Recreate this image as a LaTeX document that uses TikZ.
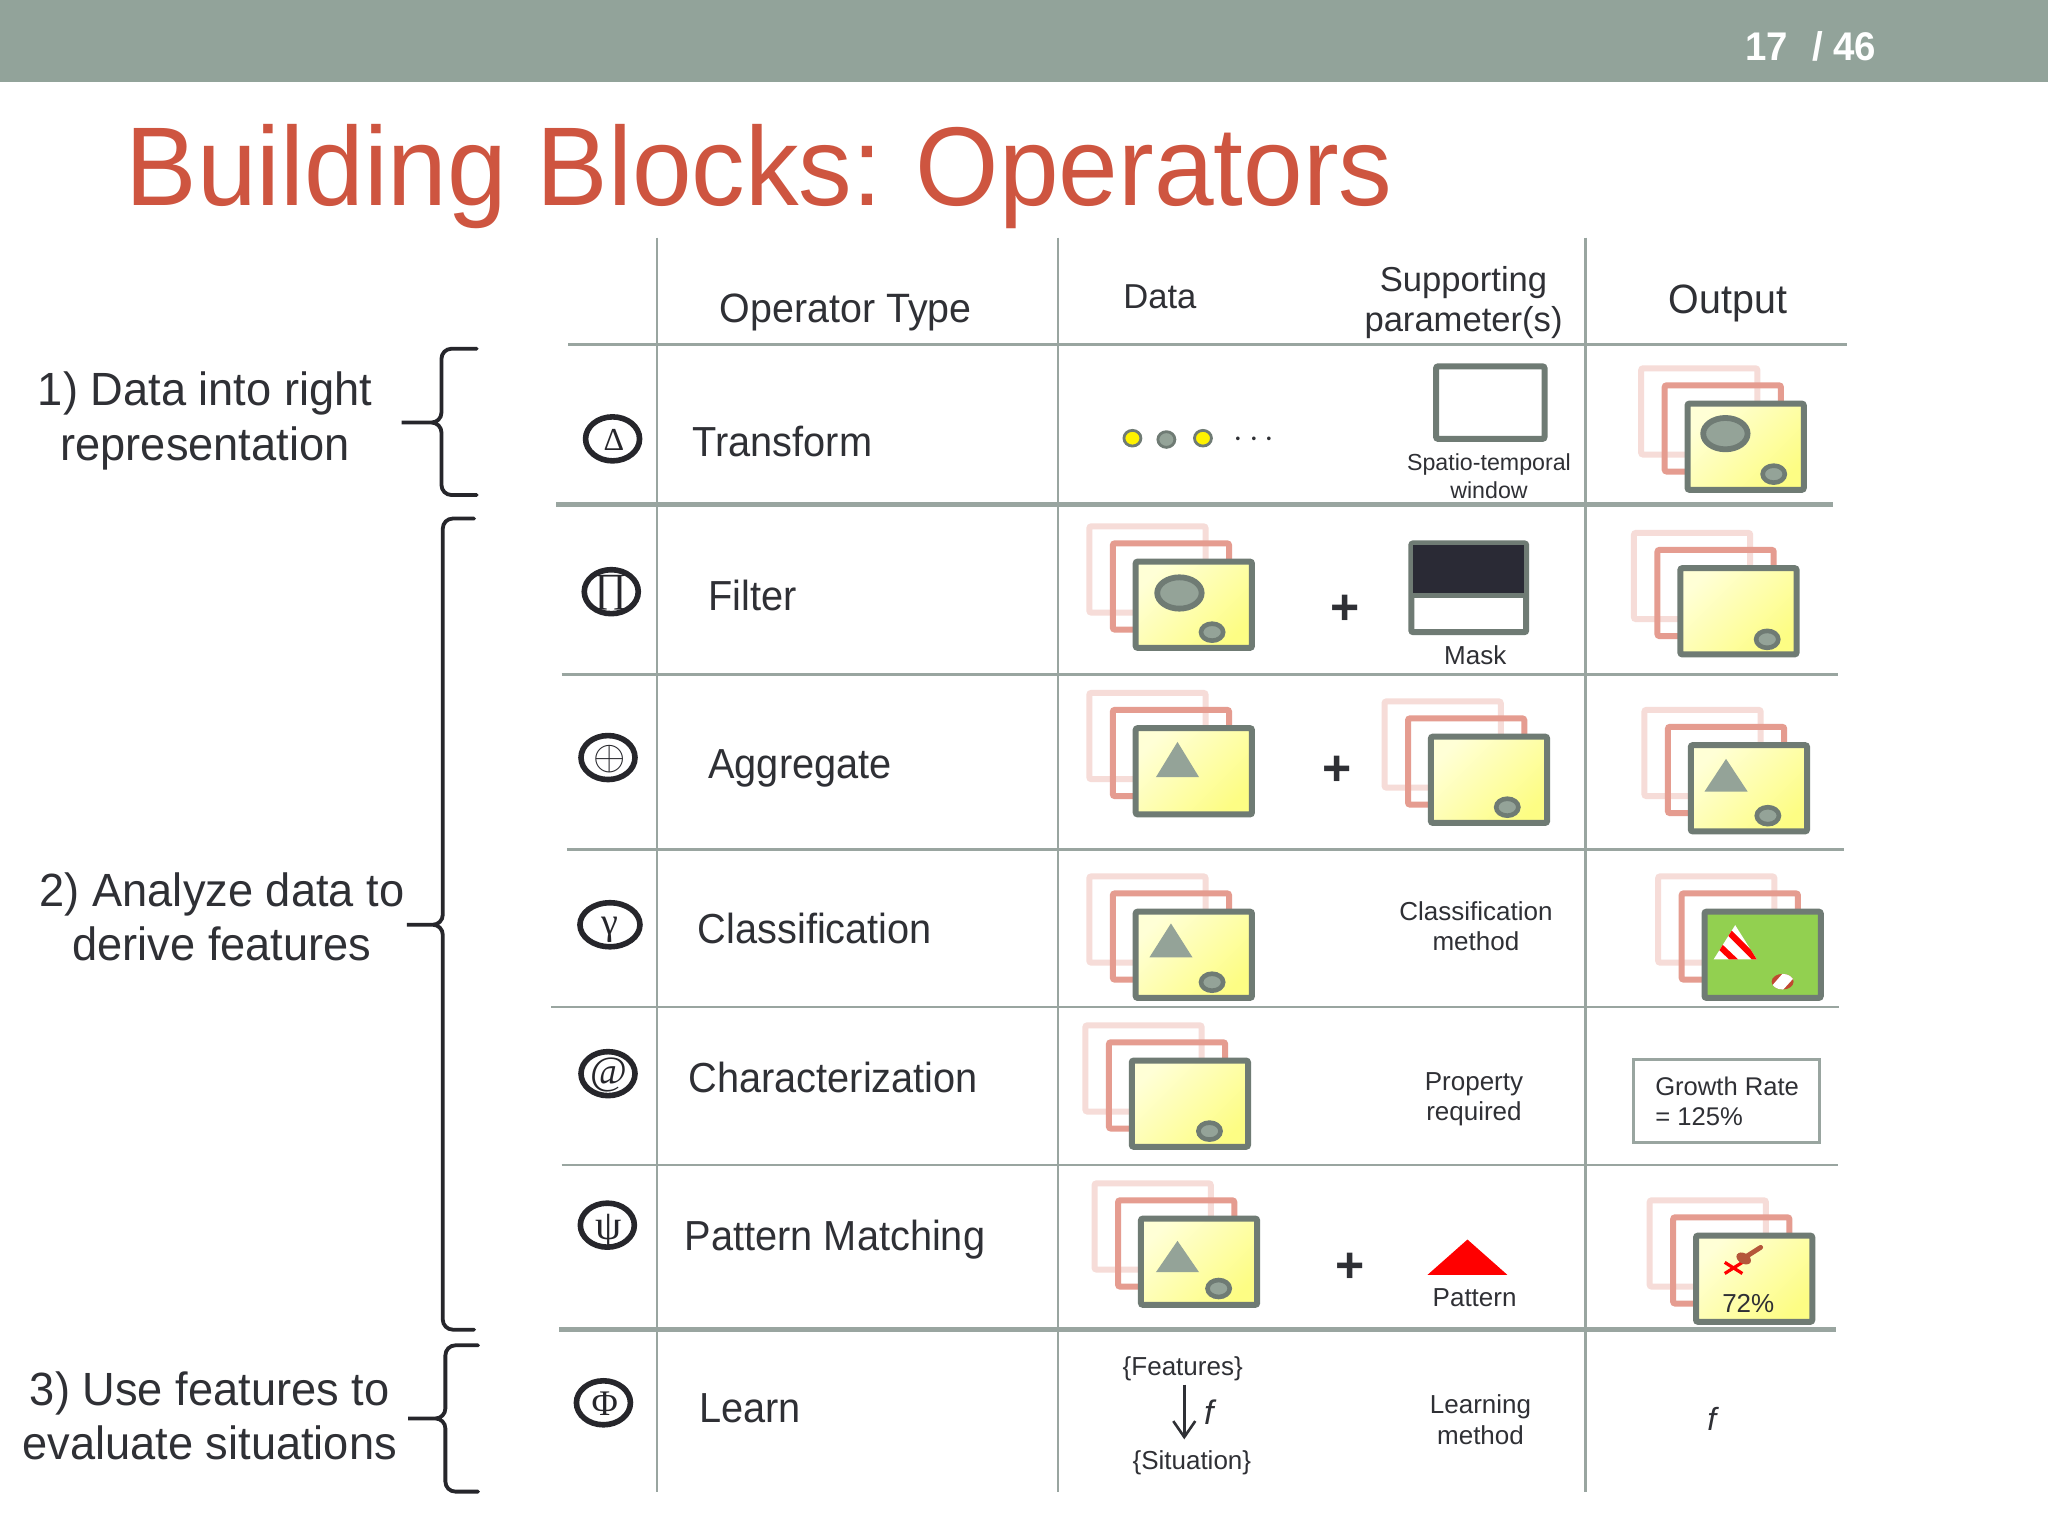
\documentclass[tikz,border=0pt]{standalone}
\usepackage{fontspec}
\setmainfont{Liberation Sans}
\newfontfamily\glyphf{Liberation Serif}
\newfontfamily\titlef[FakeStretch=0.957]{Liberation Sans}
\newfontfamily\opf[FakeStretch=0.946]{Liberation Sans}
\newfontfamily\sidef[FakeStretch=0.97]{Liberation Sans}
\newfontfamily\headf[FakeStretch=0.96]{Liberation Sans}
\usetikzlibrary{shapes.geometric,arrows.meta}
\definecolor{band}{HTML}{92A39A}
\definecolor{titlered}{HTML}{CE5540}
\definecolor{rulec}{HTML}{99A5A0}
\definecolor{ink}{HTML}{2F3035}
\definecolor{frameA}{HTML}{F6DCD8}
\definecolor{frameB}{HTML}{E59C90}
\definecolor{frameC}{HTML}{6F7B74}
\definecolor{blob}{HTML}{94A398}
\definecolor{ylA}{HTML}{FFFFD6}
\definecolor{ylB}{HTML}{FDFD84}
\definecolor{greenf}{HTML}{92D050}
\definecolor{darkf}{HTML}{2A2A35}
\definecolor{ovalc}{HTML}{26262B}
\definecolor{pinc}{HTML}{B5563A}
\tikzset{
  x=0.65306pt,y=-0.65306pt,
  rulethin/.style={draw=rulec,line width=1.4pt},
  rulethick/.style={draw=rulec,line width=2.4pt},
  backframe/.style={draw=frameA,line width=3pt,rounded corners=1pt},
  midframe/.style={draw=frameB,line width=3pt,rounded corners=1pt},
  frontframe/.style={draw=frameC,line width=3pt,rounded corners=1pt},
  yfill/.style={top color=ylA,bottom color=ylB,shading angle=45},
  bigblob/.style={draw=frameC,fill=blob,line width=2.9pt},
  smallblob/.style={draw=frameC,fill=blob,line width=2.3pt},
  txt/.style={inner sep=0pt,text=ink},
  sidetxt/.style={txt,align=center,font=\sidef\fontsize{23.3}{27.4}\selectfont},
  optxt/.style={txt,anchor=west,font=\opf\fontsize{21}{25}\selectfont},
  headtxt/.style={txt,align=center,font=\fontsize{17.3}{20}\selectfont},
  bighead/.style={txt,align=center,font=\headf\fontsize{20.5}{25}\selectfont},
  smalltxt/.style={txt,align=center,font=\fontsize{13}{15.2}\selectfont},
  opsym/.style={ellipse,draw=ovalc,line width=2.8pt,inner sep=0pt,minimum width=27pt,minimum height=22pt},
  opglyph/.style={inner sep=0pt,text=ovalc},
  bracec/.style={draw=ovalc,line width=1.9pt,line cap=round,rounded corners=5pt},
  plusn/.style={txt,font=\fontsize{25}{25}\bfseries\selectfont},
}
\newcommand{\rearframes}[2]{%
  \draw[backframe] (#1-34,#2-25.5) rectangle ++(89,66);
  \draw[midframe] (#1-16,#2-12.5) rectangle ++(89,66);
}
\newcommand{\yframes}[2]{%
  \rearframes{#1}{#2}
  \draw[frontframe,yfill] (#1+1.5,#2+1.5) rectangle ++(89,66);
}
\newcommand{\bigb}[2]{\draw[bigblob] (#1,#2) ellipse [x radius=17,y radius=12];}
\newcommand{\smallb}[2]{\draw[smallblob] (#1,#2) ellipse [x radius=8.5,y radius=6.5];}
\newcommand{\tri}[3]{\fill[blob] (#1,#2+#3) -- ++(33,0) -- ++(-16.5,-#3) -- cycle;}
\begin{document}
\begin{tikzpicture}
\useasboundingbox (0,0) rectangle (1568,1176);
\fill[white] (0,0) rectangle (1568,1176);
\fill[band] (0,0) rectangle (1568,63);
\node[inner sep=0pt,text=white,font=\headf\fontsize{20}{24}\bfseries\selectfont] (page) at (1386.5,35.5) {17\hspace{0.6em}/ 46};
\node[inner sep=0pt,anchor=west,text=titlered,font=\titlef\fontsize{56}{60}\selectfont] (title) at (96,135) {Building Blocks:\hspace{-3pt} Operators};

% grid
\draw[rulethin] (503,182) -- (503,1142);
\draw[rulethin] (810,182) -- (810,1142);
\draw[rulethin] (1214,182) -- (1214,1142);
\draw[rulethin] (435,264) -- (1414,264);
\draw[rulethick] (426,386) -- (1403,386);
\draw[rulethin] (430,516.5) -- (1407,516.5);
\draw[rulethin] (434,650.5) -- (1412,650.5);
\draw[rulethin] (422,771) -- (1408,771);
\draw[rulethin] (430,892) -- (1407,892);
\draw[rulethick] (428,1018) -- (1406,1018);

% braces
\draw[bracec] (365,267) -- (338,267) -- (338,323.5) -- (303,323.5) -- (338,323.5) -- (338,379) -- (365,379);
\draw[bracec] (363,397) -- (339,397) -- (339,708) -- (307,708) -- (339,708) -- (339,1018) -- (363,1018);
\draw[bracec] (366,1030) -- (341,1030) -- (341,1086) -- (308,1086) -- (341,1086) -- (341,1142) -- (366,1142);

% side labels
\node[sidetxt] (s1) at (157,322) {1) Data into right\\representation};
\node[sidetxt] (s2) at (170,702) {2) Analyze data to\\derive features};
\node[sidetxt] (s3) at (160.5,1084) {3) Use features to\\evaluate situations};

% headers
\node[bighead] (h1) at (647.5,239) {Operator Type};
\node[headtxt] (h2) at (888,227) {Data};
\node[headtxt] (h3) at (1120.5,232) {Supporting\\parameter(s)};
\node[bighead] (h4) at (1323,232) {Output};

% operator names
\node[optxt] (n1) at (530,338) {Transform};
\node[optxt] (n2) at (542,456) {Filter};
\node[optxt] (n3) at (542,588) {Aggregate};
\node[optxt] (n4) at (534,711) {Classification};
\node[optxt] (n5) at (527,825) {Characterization};
\node[optxt] (n6) at (524,949) {Pattern Matching};
\node[optxt] (n7) at (535,1078) {Learn};

% operator symbols
\node[opsym] (o1) at (469,336) {};
\node[opglyph,font=\glyphf\fontsize{16}{16}\selectfont] (g1) at (470,337) {Δ};
\node[opsym] (o2) at (468,453) {};
\node[opglyph,font=\glyphf\fontsize{20}{20}\selectfont] (g2) at (468,454) {∏};
\node[opsym] (o3) at (465.5,580) {};
\node[opglyph,font=\fontsize{20}{20}\selectfont] (g3) at (466.5,581) {$\oplus$};
\node[opsym,minimum width=30pt] (o4) at (467,708) {};
\node[opglyph,font=\glyphf\fontsize{19}{19}\selectfont] (g4) at (467,712) {γ};
\node[opsym] (o5) at (465.5,822) {};
\node[opglyph,font=\glyphf\fontsize{20}{20}\selectfont] (g5) at (466.5,823) {@};
\node[opsym] (o6) at (465,938) {};
\node[opglyph,font=\glyphf\fontsize{21}{21}\selectfont] (g6) at (466,943) {ψ};
\node[opsym] (o7) at (462,1074) {};
\node[opglyph,font=\glyphf\fontsize{18}{18}\selectfont] (g7) at (463,1075) {Φ};

% transform row
\draw[draw=frameC,fill=yellow,line width=1.4pt] (867,335.5) ellipse [x radius=6.5,y radius=6];
\draw[draw=frameC,fill=blob,line width=1.4pt] (893,336.5) ellipse [x radius=6.5,y radius=6];
\draw[draw=frameC,fill=yellow,line width=1.4pt] (921,335.5) ellipse [x radius=6.5,y radius=6];
\node[txt,font=\fontsize{18}{18}\selectfont] (dots) at (960,337) {$\cdots$};
\draw[frontframe,fill=white] (1099.5,280.5) rectangle (1182.5,336);
\node[smalltxt,font=\fontsize{11.6}{14}\selectfont] (t1) at (1140,364.5) {Spatio-temporal\\window};
\yframes{1290.5}{307.5}
\bigb{1321}{332}
\smallb{1358}{363}

% filter row
\yframes{868}{428.5}
\bigb{903}{454}
\smallb{928}{484}
\node[plusn] (p1) at (1029.5,467) {+};
\draw[frontframe,fill=white] (1080.5,416) rectangle (1168.5,484);
\fill[darkf] (1082,417.5) rectangle (1167,454);
\draw[draw=frameC,line width=2.6pt] (1080,456) -- (1169,456);
\node[smalltxt] (t2) at (1129.5,502) {Mask};
\yframes{1285}{433.5}
\smallb{1353}{489.5}

% aggregate row
\yframes{868}{556}
\tri{885}{568}{27}
\node[plusn] (p2) at (1024,590) {+};
\yframes{1094}{562.5}
\smallb{1154}{618}
\yframes{1293}{569}
\tri{1305}{581}{25}
\smallb{1353.5}{624.5}

% classification row
\yframes{868}{696.5}
\tri{880}{707}{26}
\smallb{928}{752}
\node[smalltxt] (t3) at (1130,709) {Classification\\method};
\rearframes{1303.5}{696.5}
\draw[frontframe,fill=greenf] (1305,698) rectangle ++(89,66);
\begin{scope}
  \path[clip] (1328.5,708.3) -- (1345,734.5) -- (1312,734.5) -- cycle;
  \fill[white] (1300,700) rectangle (1350,740);
  \draw[red,line width=3.1pt] (1320,710) -- (1348,738);
  \draw[red,line width=3.1pt] (1313,721) -- (1332,739);
\end{scope}
\begin{scope}
  \fill[pinc!85!red] (1364.8,751.6) ellipse [x radius=8.4,y radius=6];
  \path[clip] (1364.8,751.6) ellipse [x radius=8.4,y radius=6];
  \fill[white] (1356,755.5) -- (1366,744) -- (1374,748) -- (1364,759) -- cycle;
\end{scope}

% characterization row
\yframes{865}{810.5}
\smallb{926}{866}
\node[smalltxt] (t4) at (1128.5,841.5) {Property\\required};
\draw[draw=rulec,line width=1.4pt,fill=white] (1250.5,811) rectangle (1393,875);
\node[smalltxt,align=left,anchor=west,font=\fontsize{12.8}{15.2}\selectfont] (t5) at (1267,843) {Growth Rate\\= 125\%};

% pattern row
\yframes{872}{931.5}
\tri{885}{950}{24}
\smallb{933}{986.5}
\node[plusn] (p3) at (1034,971) {+};
\fill[red] (1093,976) -- (1154,976) -- (1123.5,949) -- cycle;
\node[smalltxt] (t6) at (1129,993.5) {Pattern};
\rearframes{1297}{944.5}
\draw[frontframe,yfill] (1298.5,946) rectangle ++(89,66);
\draw[red,line width=1.6pt] (1320.5,966.5) -- (1334,975);
\draw[red,line width=1.6pt] (1334,966.5) -- (1320.5,975);
\fill[pinc,rotate around={-30:(1335,963.5)}] (1335,963.5) ellipse [x radius=6,y radius=4];
\draw[draw=pinc,line width=2.4pt,line cap=round] (1337,962) -- (1348,955);
\node[smalltxt] (t7) at (1338.5,998) {72\%};

% learn row
\node[smalltxt] (feat) at (905.5,1048) {\{Features\}};
\node[smalltxt] (situ) at (912.5,1120) {\{Situation\}};
\coordinate (arrA) at (906.7,1060);
\coordinate (arrB) at (906.7,1102);
\draw[draw=ink,line width=1.3pt,-{Straight Barb[length=8pt,width=11pt]}] (arrA) -- (arrB);
\node[smalltxt,font=\itshape\fontsize{17}{17}\selectfont] (flabA) at (925.5,1081) {f};
\node[smalltxt] (t8) at (1133.5,1087) {Learning\\method};
\node[smalltxt,font=\itshape\fontsize{16}{16}\selectfont] (flabB) at (1310.5,1086) {f};
\end{tikzpicture}
\end{document}
